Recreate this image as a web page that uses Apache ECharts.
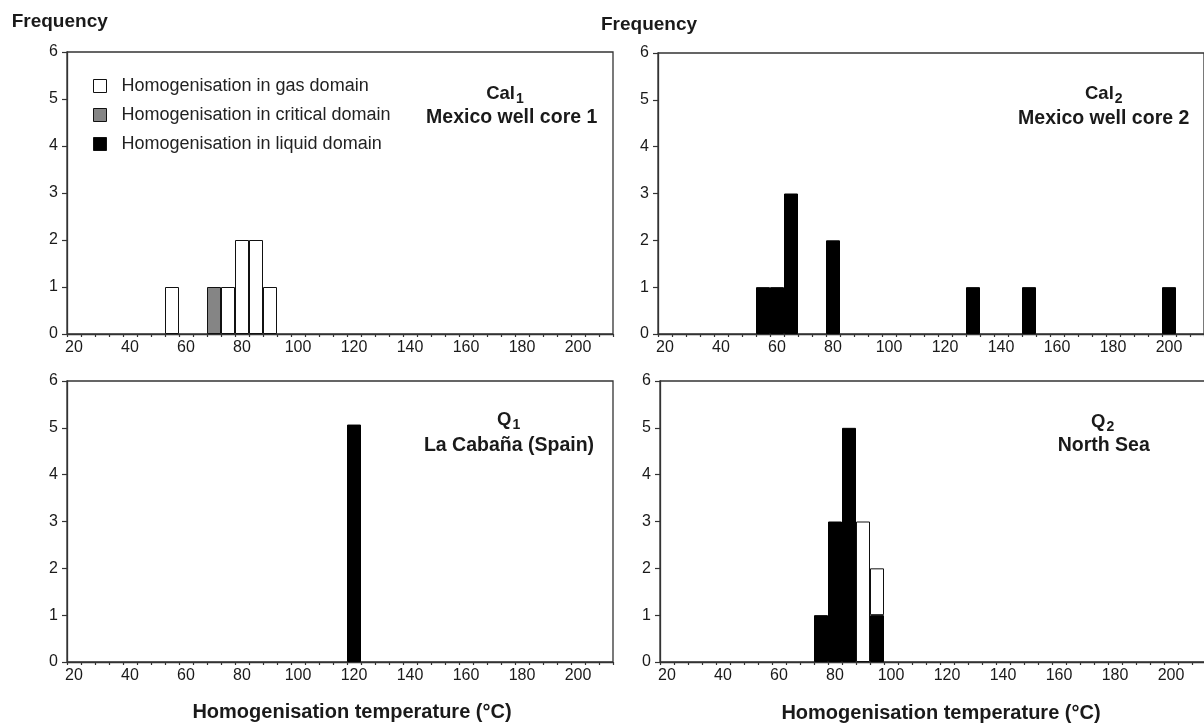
<!DOCTYPE html>
<html><head><meta charset="utf-8">
<script src="https://cdn.jsdelivr.net/npm/echarts/dist/echarts.min.js"></script>
<style>html,body{margin:0;padding:0;background:#fff}#c{width:1204px;height:724px}</style>
</head><body><div id="c"></div>
<script>
// Bin centres (°C), 5 °C wide bins
const categories = ['20','25','30','35','40','45','50','55','60','65','70','75','80','85','90','95','100','105','110','115','120','125','130','135','140','145','150','155','160','165','170','175','180','185','190','195','200','205','210'];
// [bin centre, frequency]
const cal1Gas = [[55,1],[75,1],[80,2],[85,2],[90,1]];
const cal1Critical = [[70,1]];
const cal2Liquid = [[55,1],[60,1],[65,3],[80,2],[130,1],[150,1],[200,1]];
const q1Liquid = [[120,5.07]];
const q2Liquid = [[75,1],[80,3],[85,5],[95,1]];
const q2Gas = [[90,3],[95,1]];
const yTicks = [0,1,2,3,4,5,6];

const NAME_GAS = 'Homogenisation in gas domain';
const NAME_CRIT = 'Homogenisation in critical domain';
const NAME_LIQ = 'Homogenisation in liquid domain';
const FONT = '"Liberation Sans", Arial, Helvetica, sans-serif';
const TXT = '#1a1a1a';
const LINE = '#333';

function expand(pairs){
  const arr = categories.map(()=>null);
  pairs.forEach(p=>{ const i = categories.indexOf(String(p[0])); if(i>=0) arr[i]=p[1]; });
  return arr;
}

const grids = [
  {left:67, top:52, width:546, height:282},
  {left:658, top:53, width:546, height:281},
  {left:67, top:381, width:546, height:281},
  {left:660, top:381, width:546, height:281}
];

const panels = [
  {gas:cal1Gas, crit:cal1Critical, liq:[]},
  {gas:[], crit:[], liq:cal2Liquid},
  {gas:[], crit:[], liq:q1Liquid},
  {gas:q2Gas, crit:[], liq:q2Liquid}
];

const xAxes = grids.map((g,i)=>({
  type:'category', gridIndex:i, data:categories, boundaryGap:true,
  axisLine:{show:true, lineStyle:{color:LINE, width:1.3}},
  axisTick:{show:true, interval:0, length:3, inside:false, lineStyle:{color:LINE, width:1.2}},
  axisLabel:{interval:3, fontSize:16, color:TXT, margin:6, fontFamily:FONT},
  splitLine:{show:false}
}));
const yAxes = grids.map((g,i)=>({
  type:'value', gridIndex:i, min:yTicks[0], max:yTicks[yTicks.length-1], interval:1,
  axisLine:{show:true, lineStyle:{color:LINE, width:1.3}},
  axisTick:{show:true, length:5, lineStyle:{color:LINE, width:1.2}},
  axisLabel:{fontSize:16, color:TXT, margin:9, fontFamily:FONT},
  splitLine:{show:false}
}));

const series = [];
panels.forEach((p,i)=>{
  const common = {type:'bar', xAxisIndex:i, yAxisIndex:i, stack:'s'+i, barWidth:'100%', barCategoryGap:'0%', animation:false, emphasis:{disabled:true}};
  series.push(Object.assign({name:NAME_LIQ, data:expand(p.liq), itemStyle:{color:'#000', borderColor:'#000', borderWidth:1}}, common));
  series.push(Object.assign({name:NAME_CRIT, data:expand(p.crit), itemStyle:{color:'#858585', borderColor:'#111', borderWidth:1}}, common));
  series.push(Object.assign({name:NAME_GAS, data:expand(p.gas), itemStyle:{color:'#fff', borderColor:'#111', borderWidth:1}}, common));
});

function txt(x,y,text,size,align){
  return {type:'text', x:x, y:y, silent:true, style:{text:text, fill:TXT, font:'bold '+size+'px '+FONT, align:align||'left', verticalAlign:'middle'}};
}
function subTitle(x,y,main,sub){
  return {type:'text', x:x, y:y, silent:true, style:{
    text:'{m|'+main+'}{s|'+sub+'}', align:'center', verticalAlign:'middle',
    rich:{
      m:{fontSize:18.5, fontWeight:'bold', fontFamily:FONT, fill:TXT, lineHeight:22, verticalAlign:'top'},
      s:{fontSize:14, fontWeight:'bold', fontFamily:FONT, fill:TXT, lineHeight:14, verticalAlign:'bottom', padding:[9,0,0,1]}
    }}};
}

const option = {
  backgroundColor:'#fff',
  animation:false,
  grid: grids.map(g=>Object.assign({show:true, borderColor:LINE, borderWidth:1.3, backgroundColor:'transparent', containLabel:false, outerBoundsMode:'none'}, g)),
  xAxis:xAxes, yAxis:yAxes,
  legend:{
    orient:'vertical', left:88, top:72, itemWidth:13, itemHeight:13, itemGap:11,
    selectedMode:false, icon:'rect',
    data:[NAME_GAS, NAME_CRIT, NAME_LIQ],
    itemStyle:{borderColor:'#111', borderWidth:1},
    textStyle:{fontSize:18, color:'#222', fontFamily:FONT, lineHeight:18, padding:[0,0,0,10]}
  },
  series:series,
  graphic:[
    txt(11.7, 21.7, 'Frequency', 19),
    txt(601, 25, 'Frequency', 19),
    subTitle(505, 95.5, 'Cal', '1'),
    txt(511.7, 117.5, 'Mexico well core 1', 19.5, 'center'),
    subTitle(1103.8, 95.5, 'Cal', '2'),
    txt(1103.7, 118.5, 'Mexico well core 2', 19.5, 'center'),
    subTitle(508.6, 421, 'Q', '1'),
    txt(509, 446, 'La Cabaña (Spain)', 19.5, 'center'),
    subTitle(1102.7, 423, 'Q', '2'),
    txt(1103.7, 445.5, 'North Sea', 19.5, 'center'),
    txt(352, 712, 'Homogenisation temperature (°C)', 20, 'center'),
    txt(941, 713, 'Homogenisation temperature (°C)', 20, 'center')
  ]
};
const chart = echarts.init(document.getElementById('c'), null, {renderer:'canvas'});
chart.setOption(option);
</script></body></html>
